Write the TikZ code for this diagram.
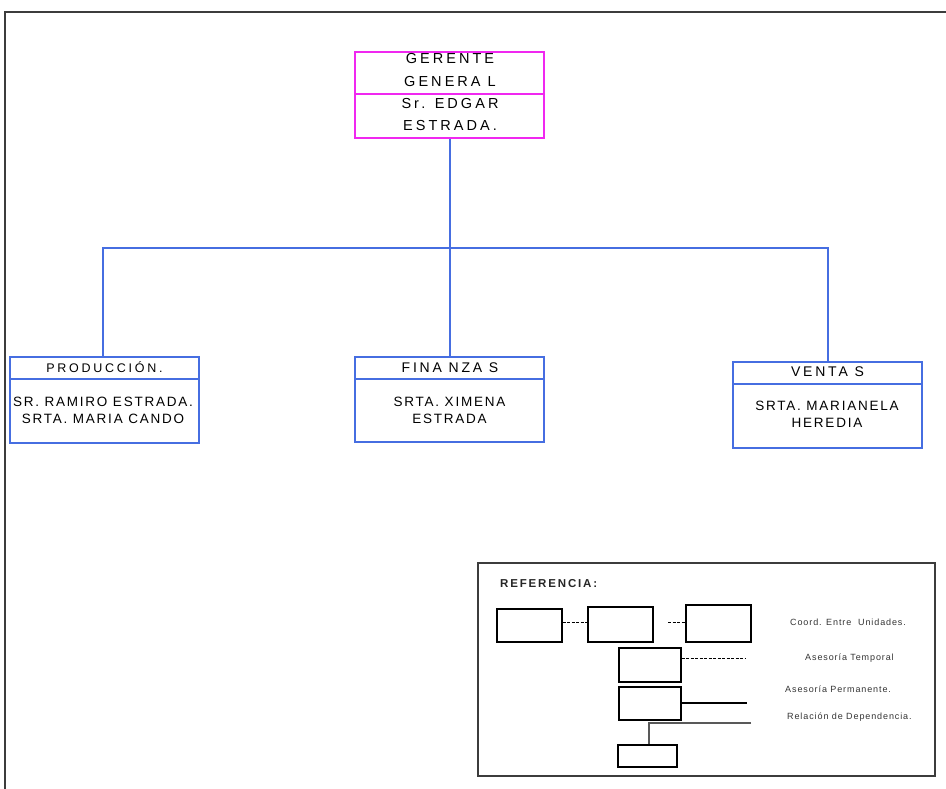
\documentclass[tikz,border=0pt]{standalone}
\usepackage{fontspec}
\setmainfont{Liberation Sans}
\definecolor{mag}{RGB}{240,40,240}
\definecolor{orgblue}{RGB}{70,110,225}
\definecolor{frame}{RGB}{60,60,60}
\tikzset{
  magbox/.style={draw=mag, line width=1.6pt, inner sep=0pt},
  bluebox/.style={draw=orgblue, line width=1.6pt, inner sep=0pt},
  conn/.style={draw=orgblue, line width=1.6pt},
  legbox/.style={draw=black, line width=1.4pt, inner sep=0pt},
  head/.style={inner sep=0pt, align=center, font=\fontsize{14}{20}\selectfont\addfontfeature{LetterSpace=20}},
  body/.style={inner sep=0pt, align=center, font=\fontsize{13.5}{17}\selectfont\addfontfeature{LetterSpace=13}},
  ggtext/.style={inner sep=0pt, align=center, font=\fontsize{14.5}{22.5}\selectfont\addfontfeature{LetterSpace=21}},
  leg/.style={inner sep=0pt, anchor=west, text=black!80, font=\fontsize{9}{11}\selectfont\addfontfeature{LetterSpace=10}},
}
\begin{document}
\begin{tikzpicture}[x=1pt,y=-1pt]
\useasboundingbox (0,0) rectangle (946,789);
% outer frame
\draw[frame, line width=2pt] (5,789) -- (5,12) -- (946,12);

% Gerente General
\node[magbox, minimum width=189pt, minimum height=86pt] (gg) at (449.5,95) {};
\draw[mag, line width=1.6pt] (gg.west |- 0,94) -- (gg.east |- 0,94);
\node[ggtext] (ggt) at (450,70) {GERENTE\\GENERA L};
\node[ggtext] (ggn) at (450,114.5) {Sr. EDGAR\\ESTRADA.};

% Producción
\node[bluebox, minimum width=189pt, minimum height=86pt] (prod) at (104.5,400) {};
\draw[orgblue, line width=1.6pt] (prod.west |- 0,379) -- (prod.east |- 0,379);
\node[head, font=\fontsize{12.5}{16}\selectfont\addfontfeature{LetterSpace=22}] (prodh) at (104.5,367.5) {PRODUCCIÓN.};
\node[body] (prodb) at (103,410) {SR. RAMIRO ESTRADA.\\SRTA. MARIA CANDO};

% Finanzas
\node[bluebox, minimum width=189pt, minimum height=85pt] (fin) at (449.5,399.5) {};
\draw[orgblue, line width=1.6pt] (fin.west |- 0,379) -- (fin.east |- 0,379);
\node[head] (finh) at (450,367.5) {FINA NZA S};
\node[body] (finb) at (449.5,410) {SRTA. XIMENA\\ESTRADA};

% Ventas
\node[bluebox, minimum width=189pt, minimum height=86pt] (vent) at (827.5,405) {};
\draw[orgblue, line width=1.6pt] (vent.west |- 0,384) -- (vent.east |- 0,384);
\node[head] (venth) at (827.5,372) {VENTA S};
\node[body] (ventb) at (827,414) {SRTA. MARIANELA\\HEREDIA};

% connectors
\draw[conn] ([xshift=0.5pt]gg.south) -- ([xshift=0.5pt]fin.north);
\draw[conn] (prod.north -| 103,0) -- (103,248) -- (828,248) -- (vent.north -| 828,0);

% Reference box
\node[draw=frame, line width=1.8pt, minimum width=457pt, minimum height=213pt, inner sep=0pt] (ref) at (706.5,669.5) {};
\node[inner sep=0pt, anchor=west, text=black!85, font=\bfseries\fontsize{11.5}{13}\selectfont\addfontfeature{LetterSpace=16}] (reft) at (500,584) {REFERENCIA:};

\node[legbox, minimum width=65pt, minimum height=33pt] (r1) at (529.5,625.5) {};
\node[legbox, minimum width=65pt, minimum height=35pt] (r2) at (620.5,624.5) {};
\node[legbox, minimum width=65pt, minimum height=37pt] (r3) at (718.5,623.5) {};
\node[legbox, minimum width=62pt, minimum height=34pt] (r4) at (650,665) {};
\node[legbox, minimum width=62pt, minimum height=33pt] (r5) at (650,703.5) {};
\node[legbox, minimum width=59pt, minimum height=22pt] (r6) at (647.5,756) {};

\coordinate (d2s) at (668,622);
\coordinate (d4e) at (745,658);
\coordinate (s5e) at (747,703);
\coordinate (rl) at (649,723);
\coordinate (rr) at (751,723);

\draw[black, line width=1pt, dash pattern=on 3pt off 1.5pt] (r1.east |- 0,622) -- (r2.west |- 0,622);
\draw[black, line width=1pt, dash pattern=on 3pt off 1.5pt] (d2s) -- (r3.west |- d2s);
\draw[black, line width=1pt, dash pattern=on 3pt off 1.5pt] (r4.east |- d4e) -- (d4e);
\draw[black, line width=1.2pt] (r5.east |- s5e) -- (s5e);
\draw[black!65, line width=1.6pt] (rr) -- (rl) -- (rl |- r6.north);

\node[leg] (l1) at (790,622) {Coord. Entre \ Unidades.};
\node[leg] (l2) at (805,658) {Asesoría Temporal};
\node[leg] (l3) at (785,689) {Asesoría Permanente.};
\node[leg] (l4) at (787,717) {Relación de Dependencia.};
\end{tikzpicture}
\end{document}
